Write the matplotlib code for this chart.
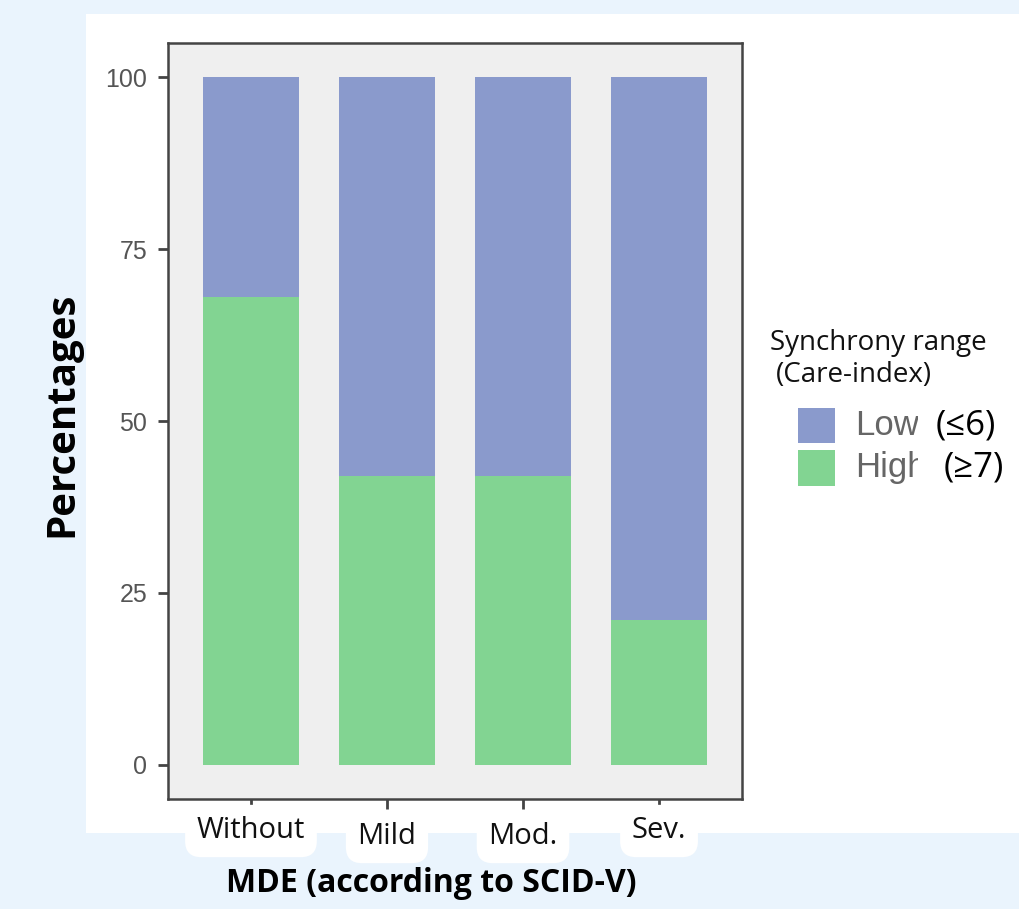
import matplotlib
matplotlib.use('Agg')
import matplotlib.pyplot as plt
from matplotlib.patches import Rectangle
from matplotlib.transforms import blended_transform_factory, Bbox, TransformedBbox

# ---- data ----
categories = ['Without', 'Mild', 'Mod.', 'Sev.']
high_pct = [68, 42, 42, 21]
low_pct = [32, 58, 58, 79]
y_ticks = [0, 25, 50, 75, 100]
series_names = ['Low', 'High']
series_notes = ['(≤6)', '(≥7)']
legend_title = ['Synchrony range', '(Care-index)']
x_label = 'MDE (according to SCID-V)'
y_label = 'Percentages'

# ---- style ----
C_LOW = '#8a9acc'
C_HIGH = '#82d492'
W, H = 1019, 909
fig = plt.figure(figsize=(W / 100, H / 100), dpi=100)
fig.patch.set_facecolor('#eaf4fd')


def fx(x):
    return x / W


def fy(y):
    return 1 - y / H


FONT = ['Open Sans', 'DejaVu Sans']

# white panel
fig.patches.append(Rectangle((fx(86), fy(833)), fx(1019) - fx(86), fy(14) - fy(833),
                             transform=fig.transFigure, facecolor='white',
                             edgecolor='none', zorder=-5))

ax = fig.add_axes([fx(168), fy(799), fx(742) - fx(168), fy(43) - fy(799)])
ax.set_zorder(2)
ax.set_facecolor('#efefef')
x = list(range(len(categories)))
ax.bar(x, high_pct, width=0.7, color=C_HIGH, zorder=2)
ax.bar(x, low_pct, width=0.7, bottom=high_pct, color=C_LOW, zorder=2)
ax.set_xlim(-0.61, 3.61)
ax.set_ylim(-5, 105)
ax.set_yticks(y_ticks)
ax.set_yticklabels([str(v) for v in y_ticks], family='Liberation Sans',
                   fontsize=18, color='#555555')
ax.set_xticks(x)
ax.set_xticklabels([])
for s in ax.spines.values():
    s.set_color('#444444')
    s.set_linewidth(1.8)
ax.tick_params(axis='both', color='#444444', width=2, length=7, pad=8)

# x tick labels in white rounded boxes
tr = blended_transform_factory(ax.transData, fig.transFigure)
label_y = [831, 837, 837, 831]
for xi, lab, yy in zip(x, categories, label_y):
    fig.text(xi, fy(yy), lab, transform=tr, ha='center', va='center',
             family=FONT, fontsize=21, color='#111111', zorder=6,
             bbox=dict(boxstyle='round,pad=0.4,rounding_size=0.55',
                       fc='white', ec='none'))

fig.text(fx(431), fy(884), x_label, ha='center', va='center', family=FONT,
         fontsize=23, fontweight='bold', color='#000000')
fig.text(fx(62), fy(414), y_label, ha='center', va='center', rotation=90,
         family=FONT, fontsize=29, fontweight='bold', color='#000000')

# legend
fig.text(fx(770), fy(343), legend_title[0], ha='left', va='center',
         family=FONT, fontsize=20, color='#111111')
fig.text(fx(776), fy(375), legend_title[1], ha='left', va='center',
         family=FONT, fontsize=20, color='#111111')
colors = [C_LOW, C_HIGH]
rows = [(408, 443), (450, 486)]
note_x = [936, 944]
clip = TransformedBbox(Bbox([[fx(845), 0], [fx(918), 1]]), fig.transFigure)
for name, note, col, (t, b), nx in zip(series_names, series_notes, colors, rows, note_x):
    fig.patches.append(Rectangle((fx(798), fy(b)), fx(835) - fx(798), fy(t) - fy(b),
                                 transform=fig.transFigure, facecolor=col,
                                 edgecolor='none'))
    yc = fy((t + b) / 2)
    txt = fig.text(fx(855), yc, name, ha='left', va='center', family='Liberation Sans',
                   fontsize=25, color='#666666')
    txt.set_clip_box(clip)
    txt.set_clip_on(True)
    fig.text(fx(nx), yc, note, ha='left', va='center', family=FONT,
             fontsize=25, color='#000000')

fig.savefig('out.png', dpi=100, facecolor=fig.get_facecolor())
